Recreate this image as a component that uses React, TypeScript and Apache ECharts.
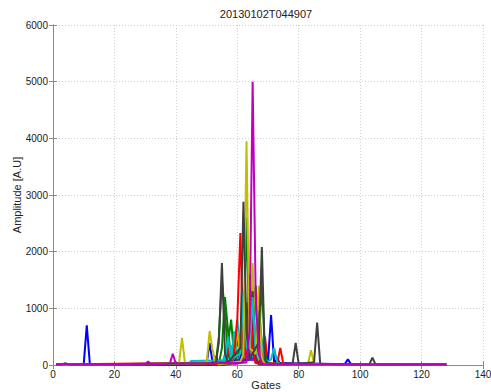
import React, { useEffect, useRef } from "react";
import * as echarts from "echarts";

// Range-gate amplitude profiles, one line per profile: [gate, amplitude] vertices.
const titleText = "20130102T044907";
const xName = "Gates";
const yName = "Amplitude [A.U]";
const xTicks = [0, 20, 40, 60, 80, 100, 120, 140];
const yTicks = [0, 1000, 2000, 3000, 4000, 5000, 6000];

const blueA = [[1,15],[10,15],[11,700],[12,15],[50,20],[51,390],[52,30],[61,40],[62,1000],[63,200],[64,1590],[65,300],[66,40],[70,50],[71,880],[72,40],[95,15],[96,100],[97,15],[128,12]];
const greenA = [[1,10],[53,20],[54,500],[55,1500],[56,900],[57,200],[58,60],[62,300],[63,2600],[64,400],[67,300],[68,1500],[69,200],[70,20],[128,10]];
const redA = [[1,10],[56,20],[57,300],[58,50],[59,200],[60,800],[61,2330],[62,400],[63,100],[64,1500],[65,300],[66,30],[73,30],[74,300],[75,20],[128,10]];
const cyanA = [[1,10],[44,20],[45,70],[52,80],[56,80],[57,500],[58,100],[61,200],[62,1320],[63,300],[64,200],[65,1200],[66,200],[70,60],[71,100],[72,300],[73,50],[74,15],[128,10]];
const magentaA = [[1,15],[30,15],[31,60],[32,15],[38,20],[39,200],[40,20],[62,40],[63,50],[64,600],[65,5000],[66,1200],[67,200],[68,30],[69,15],[128,15]];
const yellowA = [[1,10],[41,20],[42,480],[43,20],[50,30],[51,600],[52,250],[53,50],[54,15],[61,60],[62,200],[63,3950],[64,300],[66,200],[67,1400],[68,100],[69,20],[83,20],[84,260],[85,20],[128,10]];
const darkA = [[1,10],[3,10],[4,30],[5,10],[53,30],[54,400],[55,1800],[56,200],[57,40],[61,300],[62,2880],[63,600],[64,100],[67,400],[68,2080],[69,100],[70,20],[78,20],[79,390],[80,20],[85,50],[86,750],[87,20],[103,10],[104,130],[105,10],[128,10]];

const blueB = [[1,8],[56,10],[57,300],[58,30],[59,60],[60,500],[61,80],[66,100],[67,700],[68,60],[69,8],[128,8]];
const greenB = [[1,8],[56,20],[57,400],[58,800],[59,100],[64,200],[65,800],[66,1400],[67,200],[68,8],[128,8]];
const redB = [[1,8],[62,50],[63,1100],[64,200],[65,300],[66,1300],[67,200],[68,100],[69,500],[70,30],[71,8],[128,8]];
const cyanB = [[1,8],[58,30],[59,600],[60,100],[63,200],[64,900],[65,150],[67,100],[68,400],[69,40],[70,8],[128,8]];
const magentaB = [[1,8],[60,20],[61,100],[62,800],[63,120],[66,80],[67,500],[68,40],[69,8],[128,8]];
const yellowB = [[1,8],[58,20],[59,150],[60,600],[61,100],[64,300],[65,1800],[66,300],[67,8],[128,8]];
const darkB = [[1,8],[58,20],[59,200],[60,60],[64,300],[65,1300],[66,150],[67,8],[128,8]];

const blueC = [[1,6],[52,10],[53,150],[54,40],[55,80],[56,20],[62,200],[63,700],[64,150],[68,50],[69,300],[70,40],[72,10],[73,120],[74,10],[128,6]];
const greenC = [[1,6],[54,20],[55,300],[56,1200],[57,600],[58,150],[59,30],[61,50],[62,1200],[63,300],[66,100],[67,1000],[68,400],[69,20],[128,6]];
const cyanC = [[1,6],[55,20],[56,200],[57,100],[58,350],[59,150],[60,800],[61,300],[62,100],[66,200],[67,600],[68,100],[69,20],[128,6]];
const redC = [[1,6],[57,10],[58,120],[59,60],[62,200],[63,600],[64,100],[65,900],[66,200],[67,40],[68,6],[128,6]];
const magentaC = [[1,6],[57,20],[58,150],[59,30],[63,100],[64,300],[65,100],[66,400],[67,60],[68,6],[128,6]];

const profiles = [
  { data: blueC, color: "#0000ff" },
  { data: greenC, color: "#008000" },
  { data: redC, color: "#ff0000" },
  { data: cyanC, color: "#00bfbf" },
  { data: magentaC, color: "#bf00bf" },
  { data: blueB, color: "#0000ff" },
  { data: greenB, color: "#008000" },
  { data: redB, color: "#ff0000" },
  { data: cyanB, color: "#00bfbf" },
  { data: magentaB, color: "#bf00bf" },
  { data: yellowB, color: "#bfbf00" },
  { data: darkB, color: "#404040" },
  { data: blueA, color: "#0000ff" },
  { data: greenA, color: "#008000" },
  { data: redA, color: "#ff0000" },
  { data: cyanA, color: "#00bfbf" },
  { data: yellowA, color: "#bfbf00" },
  { data: darkA, color: "#404040" },
  { data: magentaA, color: "#bf00bf" },
];

const FONT = "Liberation Sans, Arial, sans-serif";
const plain = (v: number) => String(v);

export default function App() {
  const ref = useRef<HTMLDivElement>(null);
  useEffect(() => {
    if (!ref.current) return;
    const chart = echarts.init(ref.current, null, { renderer: "svg" });
    const axisLine = { show: true, lineStyle: { color: "#8a8a8a", width: 1 } };
    const tick = { show: true, inside: true, length: 4, lineStyle: { color: "#8a8a8a" } };
    const grid = { show: true, lineStyle: { color: "#cfcfcf", type: [1, 2] as any, width: 1 } };
    const textStyle = (text: string) => ({
      text,
      font: `11px ${FONT}`,
      fill: "#222",
      textAlign: "center",
      textVerticalAlign: "middle",
    });
    chart.setOption({
      animation: false,
      backgroundColor: "#ffffff",
      graphic: [
        { type: "text", x: 266, y: 14, style: textStyle(titleText) },
        { type: "text", x: 266, y: 385, style: textStyle(xName) },
        { type: "text", x: 17, y: 195, rotation: Math.PI / 2, style: textStyle(yName) },
      ],
      grid: { left: 53, right: 8, top: 25, bottom: 27, containLabel: false, outerBoundsMode: "none" },
      xAxis: [
        {
          type: "value", min: xTicks[0], max: xTicks[xTicks.length - 1], interval: 20,
          axisLine, axisTick: tick, splitLine: grid,
          axisLabel: { fontFamily: FONT, fontSize: 10, color: "#222", margin: 4, formatter: plain },
        },
        {
          type: "value", position: "top", min: xTicks[0], max: xTicks[xTicks.length - 1], interval: 20,
          axisLine, axisTick: tick, splitLine: { show: false }, axisLabel: { show: false },
        },
      ],
      yAxis: [
        {
          type: "value", min: yTicks[0], max: yTicks[yTicks.length - 1], interval: 1000,
          axisLine, axisTick: tick, splitLine: grid,
          axisLabel: { fontFamily: FONT, fontSize: 10, color: "#222", margin: 5, formatter: plain },
        },
        {
          type: "value", position: "right", min: yTicks[0], max: yTicks[yTicks.length - 1], interval: 1000,
          axisLine, axisTick: tick, splitLine: { show: false }, axisLabel: { show: false },
        },
      ],
      series: profiles.map((p) => ({
        type: "line",
        data: p.data,
        showSymbol: false,
        symbol: "none",
        lineStyle: { color: p.color, width: 2 },
        itemStyle: { color: p.color },
        silent: true,
      })),
    });
    return () => chart.dispose();
  }, []);
  return (
    <div
      ref={ref}
      style={{ position: "fixed", left: 0, top: 0, width: 491, height: 392, background: "#fff" }}
    />
  );
}
